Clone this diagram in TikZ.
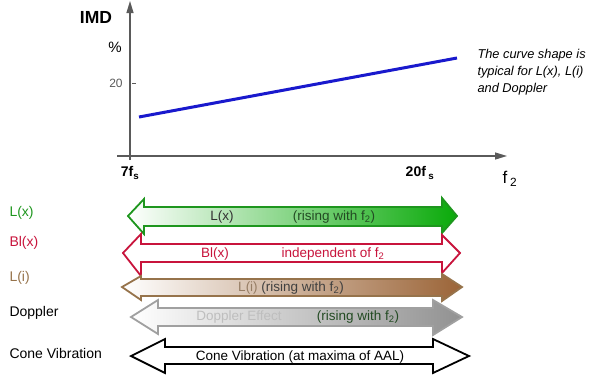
\documentclass[tikz,border=0pt]{standalone}
\usepackage{fontspec}
\setmainfont{Liberation Sans}
\usetikzlibrary{arrows.meta}

\definecolor{lxgreen}{RGB}{30,150,30}
\definecolor{lxfill}{RGB}{10,170,10}
\definecolor{lxtext}{RGB}{35,75,35}
\definecolor{blred}{RGB}{200,20,60}
\definecolor{librown}{RGB}{150,115,75}
\definecolor{lifill}{RGB}{155,100,55}
\definecolor{litext}{RGB}{150,125,100}
\definecolor{dpgray}{RGB}{160,160,160}
\definecolor{dpfill}{RGB}{145,145,145}
\definecolor{dplight}{RGB}{190,190,190}
\definecolor{axisgray}{RGB}{90,90,90}
\definecolor{curveblue}{RGB}{25,25,205}

\begin{document}
\begin{tikzpicture}[x=1pt,y=-1pt,
	lbl/.style={anchor=west,font=\fontsize{14}{16}\selectfont},
	intxt/.style={font=\fontsize{13.5}{16}\selectfont},
	axis/.style={line width=1.2pt,draw=axisgray,-{Triangle[length=12pt,width=7pt]}},
	band/.style={line width=1.8pt,line join=miter}]
	\useasboundingbox (0,0) rectangle (600,381);
	% diagram
	\draw[axis] (130,160) -- (130,1);
	\draw[axis] (117,156) -- (507,156);
	\draw[axisgray,line width=0.8pt] (132,83) -- (136,83);
	\draw[curveblue,line width=3pt] (139,117) -- (457,58);
	\node[font=\fontsize{17.5}{20}\selectfont\bfseries] (imd) at (96,17) {IMD};
	\node[font=\fontsize{15}{18}\selectfont] (pct) at (115,47) {\%};
	\node[font=\fontsize{12}{14}\selectfont,text=axisgray] (twenty) at (116,83) {20};
	\node[font=\fontsize{14}{16}\selectfont\bfseries] (lo) at (130,173) {7f\textsubscript{s}};
	\node[font=\fontsize{14}{16}\selectfont\bfseries] (hi) at (420,173) {20f\,\textsubscript{s}};
	\node[font=\fontsize{17}{20}\selectfont] (ftwo) at (510,179) {f\,\textsubscript{2}};
	\node[anchor=west,align=left,font=\fontsize{12.8}{17}\selectfont\itshape] (note) at (474,72)
		{The curve shape is\\typical for L(x), L(i)\\and Doppler};
	% left labels
	\node[lbl,text=lxgreen] (llx) at (6,213) {L(x)};
	\node[lbl,text=blred] (lbl) at (6,243) {Bl(x)};
	\node[lbl,text=librown] (lli) at (6,278) {L(i)};
	\node[lbl] (ldop) at (6,313) {Doppler};
	\node[lbl] (lcone) at (6,353) {Cone Vibration};
	% arrows
	\draw[band,draw=lxgreen,left color=white,right color=lxfill] (128,216) -- (144,199) -- (144,207) -- (442,207) -- (442,198) -- (457,216) -- (442,233) -- (442,226) -- (144,226) -- (144,234) -- cycle;
	\draw[band,draw=blred,fill=white] (123,253) -- (141,234) -- (141,244) -- (442,244) -- (442,235) -- (460,253) -- (442,273) -- (442,262) -- (141,262) -- (141,276) -- cycle;
	\draw[band,draw=librown,left color=white,right color=lifill] (122,287) -- (141,276) -- (141,279) -- (442,279) -- (442,274) -- (462,287) -- (442,301) -- (442,296) -- (141,296) -- (141,300) -- cycle;
	\draw[band,draw=dpgray,left color=white,right color=dpfill] (131,317) -- (158,300) -- (158,308) -- (433,308) -- (433,300) -- (462,317) -- (433,335) -- (433,326) -- (158,326) -- (158,334) -- cycle;
	\draw[band,draw=black,fill=white] (131,356) -- (165,339) -- (165,347) -- (433,347) -- (433,339) -- (469,356) -- (433,373) -- (433,364) -- (165,364) -- (165,373) -- cycle;
	% arrow texts
	\node[intxt,text=black!80] (tlx) at (222,217) {L(x)};
	\node[intxt,text=lxtext] (tlxr) at (334,217) {(rising with f\textsubscript{2})};
	\node[intxt,text=blred] (tbl) at (215,254) {Bl(x)};
	\node[intxt,text=blred] (tblr) at (333,254) {independent of f\textsubscript{2}};
	\node[intxt,text=black!75] (tli) at (291,288) {\textcolor{litext}{L(i)} (rising with f\textsubscript{2})};
	\node[intxt,text=dplight] (tdop) at (239,317) {Doppler Effect};
	\node[intxt,text=lxtext] (tdopr) at (358,317) {(rising with f\textsubscript{2})};
	\node[intxt] (tcone) at (300,357) {Cone Vibration (at maxima of AAL)};
\end{tikzpicture}
\end{document}
